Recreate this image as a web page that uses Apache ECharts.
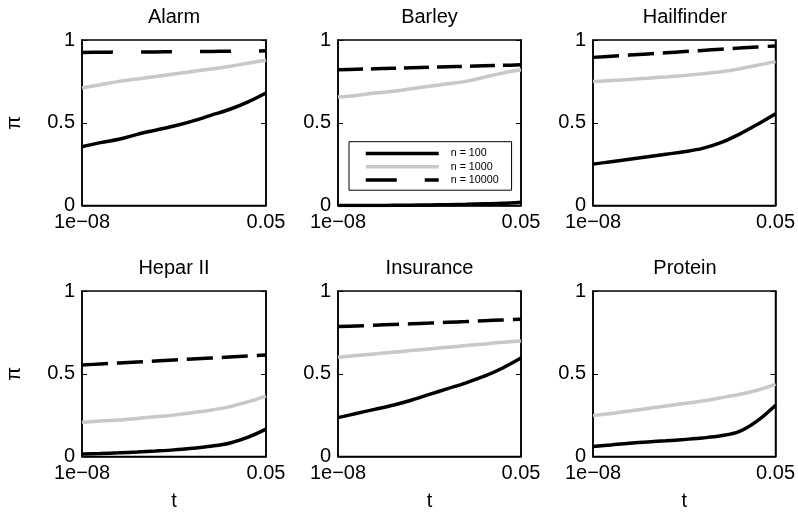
<!DOCTYPE html>
<html><head><meta charset="utf-8">
<script src="https://cdn.jsdelivr.net/npm/echarts@6/dist/echarts.min.js"></script>
<style>html,body{margin:0;padding:0;background:#fff}#c{width:798px;height:518px}</style>
</head><body><div id="c"></div><script>
// ---------- data ----------
const panels = ['Alarm', 'Barley', 'Hailfinder', 'Hepar II', 'Insurance', 'Protein'];
const seriesNames = ['n = 100', 'n = 1000', 'n = 10000'];
const tTicks = ['1e\u221208', '0.05'];
const tPos = [0, 0.1, 0.2, 0.3, 0.4, 0.5, 0.6, 0.7, 0.8, 0.9, 1.0];

const alarm100   = [0.355, 0.38, 0.40, 0.43, 0.455, 0.48, 0.51, 0.545, 0.58, 0.625, 0.68];
const alarm1000  = [0.71, 0.73, 0.75, 0.765, 0.78, 0.795, 0.81, 0.825, 0.84, 0.86, 0.878];
const alarm10000 = [0.925, 0.926, 0.927, 0.927, 0.928, 0.929, 0.93, 0.931, 0.932, 0.933, 0.935];

const barley100   = [0.0, 0.0, 0.0, 0.001, 0.002, 0.003, 0.005, 0.007, 0.01, 0.013, 0.02];
const barley1000  = [0.655, 0.665, 0.68, 0.69, 0.705, 0.72, 0.735, 0.75, 0.775, 0.80, 0.82];
const barley10000 = [0.82, 0.823, 0.826, 0.829, 0.832, 0.835, 0.838, 0.841, 0.844, 0.847, 0.85];

const hail100   = [0.25, 0.265, 0.28, 0.295, 0.31, 0.325, 0.345, 0.38, 0.43, 0.49, 0.555];
const hail1000  = [0.749, 0.755, 0.762, 0.769, 0.777, 0.786, 0.796, 0.808, 0.825, 0.847, 0.87];
const hail10000 = [0.895, 0.902, 0.909, 0.916, 0.923, 0.93, 0.937, 0.944, 0.951, 0.958, 0.964];

const hepar100   = [0.015, 0.018, 0.022, 0.027, 0.033, 0.04, 0.05, 0.062, 0.08, 0.115, 0.165];
const hepar1000  = [0.207, 0.215, 0.22, 0.23, 0.24, 0.25, 0.265, 0.28, 0.30, 0.33, 0.365];
const hepar10000 = [0.553, 0.559, 0.565, 0.571, 0.577, 0.583, 0.589, 0.595, 0.601, 0.607, 0.613];

const ins100   = [0.235, 0.26, 0.285, 0.31, 0.34, 0.375, 0.41, 0.445, 0.485, 0.535, 0.595];
const ins1000  = [0.60, 0.61, 0.62, 0.63, 0.64, 0.65, 0.66, 0.67, 0.68, 0.69, 0.698];
const ins10000 = [0.785, 0.789, 0.793, 0.798, 0.802, 0.806, 0.811, 0.815, 0.82, 0.825, 0.829];

const prot100   = [0.06, 0.07, 0.08, 0.088, 0.095, 0.103, 0.112, 0.125, 0.15, 0.215, 0.31];
const prot1000  = [0.247, 0.26, 0.275, 0.29, 0.305, 0.32, 0.335, 0.355, 0.375, 0.40, 0.437];
const prot10000 = null; // not visible in the reference

const panelData = [
  [alarm100, alarm1000, alarm10000],
  [barley100, barley1000, barley10000],
  [hail100, hail1000, hail10000],
  [hepar100, hepar1000, hepar10000],
  [ins100, ins1000, ins10000],
  [prot100, prot1000, prot10000]
];

// ---------- layout / style ----------
const FONT = "'Liberation Sans', Arial, Helvetica, sans-serif";
const colLeft = [82, 338, 593];
const colWidth = [184, 183, 184];
const rowTop = [40, 291];
const rowHeight = 165.5;
const dashPerPanel = [[31, 28], [25, 8], [26, 9], [26, 9], [26, 9], [26, 9]];
const colors = ['#000000', '#c8c8c8', '#000000'];

const grids = [], xAxes = [], yAxes = [], titles = [], series = [];
panels.forEach((name, i) => {
  const r = Math.floor(i / 3), c = i % 3;
  grids.push({ left: colLeft[c], top: rowTop[r], width: colWidth[c], height: rowHeight,
    show: true, borderColor: '#000', borderWidth: 1.5, backgroundColor: '#fff' });
  titles.push({ text: name, left: colLeft[c] + colWidth[c] / 2, textAlign: 'center',
    top: rowTop[r] - 33, padding: 0,
    textStyle: { fontFamily: FONT, fontSize: 20, fontWeight: 'normal', color: '#000' } });
  xAxes.push({ gridIndex: i, type: 'value', min: 0, max: 1, interval: 1,
    name: r === 1 ? 't' : '', nameLocation: 'middle', nameGap: 35,
    nameTextStyle: { fontFamily: FONT, fontSize: 20, color: '#000' },
    axisLine: { show: true, lineStyle: { color: '#000', width: 1.5 } },
    axisTick: { show: false },
    splitLine: { show: false },
    axisLabel: { fontFamily: FONT, fontSize: 20, color: '#000', margin: 7,
      formatter: v => (v === 0 ? tTicks[0] : tTicks[1]) } });
  yAxes.push({ gridIndex: i, type: 'value', min: 0, max: 1, interval: 0.5,
    name: c === 0 ? 'π' : '', nameLocation: 'middle', nameGap: 58, nameRotate: 90,
    nameTextStyle: { fontFamily: FONT, fontSize: 20, color: '#000' },
    axisLine: { show: true, lineStyle: { color: '#000', width: 1.5 } },
    axisTick: { show: true, inside: true, length: 5, lineStyle: { color: '#000', width: 1 } },
    splitLine: { show: false },
    axisLabel: { fontFamily: FONT, fontSize: 20, color: '#000', margin: 7 } });
  panelData[i].forEach((vals, k) => {
    if (!vals) return;
    series.push({ name: seriesNames[k], type: 'line', xAxisIndex: i, yAxisIndex: i,
      data: tPos.map((t, j) => [t, vals[j]]), showSymbol: false, symbol: 'none',
      smooth: 0.35,
      lineStyle: { color: colors[k], width: 3.5, type: k === 2 ? dashPerPanel[i] : 'solid' },
      itemStyle: { color: colors[k] },
      animation: false, z: 3 });
  });
});
// right-side axes (box + inner ticks)
panels.forEach((name, i) => {
  yAxes.push({ gridIndex: i, type: 'value', min: 0, max: 1, interval: 0.5, position: 'right',
    axisLine: { show: true, lineStyle: { color: '#000', width: 1.5 } },
    axisTick: { show: true, inside: true, length: 5, lineStyle: { color: '#000', width: 1 } },
    axisLabel: { show: false }, splitLine: { show: false } });
});

const chart = echarts.init(document.getElementById('c'), null, { renderer: 'canvas' });
chart.setOption({
  backgroundColor: '#fff',
  animation: false,
  title: titles,
  grid: grids,
  xAxis: xAxes,
  yAxis: yAxes,
  legend: {
    data: seriesNames,
    orient: 'vertical', left: 349, top: 141.7,
    itemWidth: 73, itemHeight: 12, itemGap: 2.3,
    padding: [6.3, 13, 4.6, 15],
    borderColor: '#000', borderWidth: 1, backgroundColor: '#fff',
    itemStyle: { opacity: 0 },
    lineStyle: { width: 3.5 },
    textStyle: { fontFamily: FONT, fontSize: 10.7, color: '#000', padding: [0, 0, 0, 7] },
    selectedMode: false
  },
  series: series
});
</script></body></html>
